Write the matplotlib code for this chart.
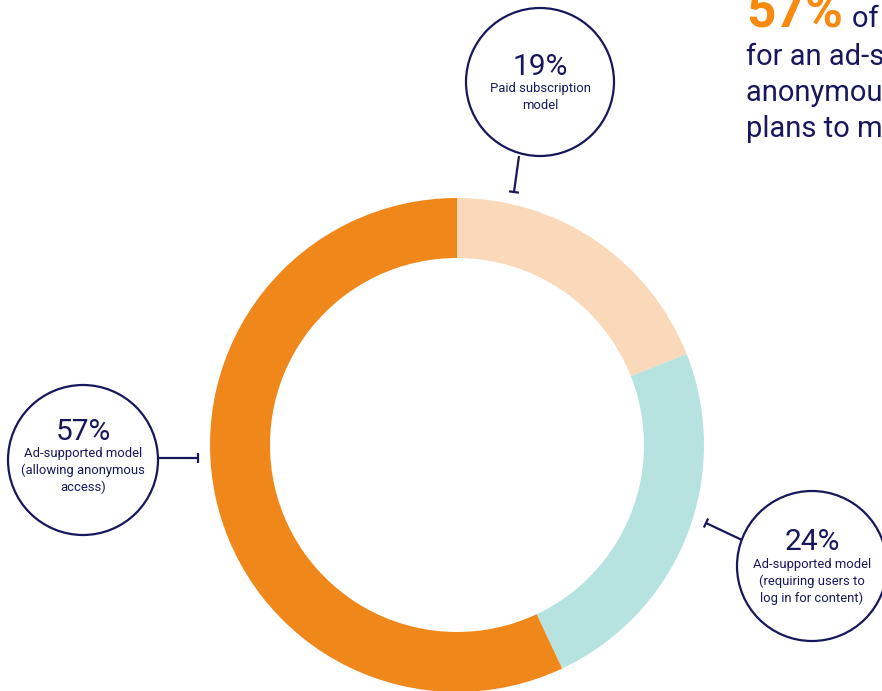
import matplotlib.pyplot as plt
from matplotlib.patches import Circle

plt.rcParams['font.family'] = ['Roboto', 'DejaVu Sans']

W, H = 882, 691

# Survey shares, clockwise from 12 o'clock
categories = ["Paid subscription\nmodel",
              "Ad-supported model\n(requiring users to\nlog in for content)",
              "Ad-supported model\n(allowing anonymous\naccess)"]
values = [19, 24, 57]
colors = ["#FAD9BA", "#B6E3E0", "#F0871B"]

NAVY = "#17175C"
ORANGE = "#F98A10"

fig = plt.figure(figsize=(W / 100, H / 100), dpi=100)
ax = fig.add_axes([0, 0, 1, 1])


def Y(y):
    return H - y


cx, cy, r_out, r_in = 457, 445, 247, 187
ax.pie(values, colors=colors, startangle=90, counterclock=False,
       radius=r_out, center=(cx, Y(cy)),
       wedgeprops=dict(width=r_out - r_in, linewidth=0))

# Callout bubbles: centre, radius, connector start/end, value baseline, label baseline
bubbles = [
    (540, 82, 74, (519, 156), (514, 192), 75, 92),
    (812, 566, 75, (742, 540), (706, 523), 550, 568),
    (83, 460, 75, (158, 458), (198, 458), 440, 457),
]

for (bx, by, br, p0, p1, vb, lb), val, label in zip(bubbles, values, categories):
    ax.add_patch(Circle((bx, Y(by)), br, facecolor="white",
                        edgecolor=NAVY, linewidth=1.6, zorder=3))
    ax.plot([p0[0], p1[0]], [Y(p0[1]), Y(p1[1])], color=NAVY, lw=1.6,
            zorder=2, solid_capstyle="butt")
    # small T-cap at the ring end of the connector
    dx, dy = p1[0] - p0[0], p1[1] - p0[1]
    n = (dx ** 2 + dy ** 2) ** 0.5
    px, py = -dy / n * 5, dx / n * 5
    ax.plot([p1[0] - px, p1[0] + px], [Y(p1[1] - py), Y(p1[1] + py)],
            color=NAVY, lw=1.6, zorder=2, solid_capstyle="butt")
    ax.text(bx, Y(vb), f"{val}%", ha="center", va="baseline",
            fontsize=21.5, color=NAVY, fontweight="normal", zorder=4)
    for i, line in enumerate(label.split("\n")):
        ax.text(bx, Y(lb + 16.8 * i), line, ha="center", va="baseline",
                fontsize=9.4, color=NAVY, fontweight="normal", zorder=4)

# Headline text at top right, running off the edge
ax.text(746, Y(27), "57%", ha="left", va="baseline", fontsize=37,
        fontweight="bold", color=ORANGE)
ax.text(852, Y(27), "of publishers", ha="left", va="baseline",
        fontsize=21, color=NAVY, fontweight="normal")
for i, line in enumerate(["for an ad-supported model",
                          "anonymous access",
                          "plans to monetise"]):
    ax.text(746, Y(65 + 36 * i), line, ha="left", va="baseline",
            fontsize=21, color=NAVY)

ax.set_xlim(0, W)
ax.set_ylim(0, H)
ax.set_aspect("equal")
ax.axis("off")

fig.savefig("out.png", dpi=100)
